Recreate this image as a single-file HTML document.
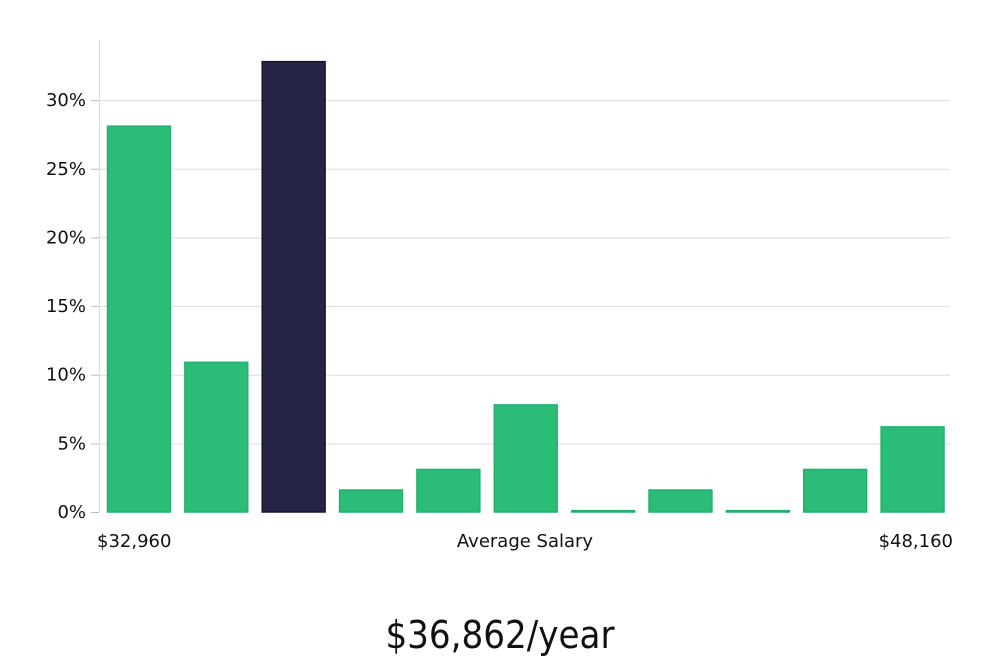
<!DOCTYPE html>
<html><head><meta charset="utf-8"><style>
html,body{margin:0;padding:0;background:#fff;width:1000px;height:660px;overflow:hidden}
svg text{font-family:"DejaVu Sans","Liberation Sans",sans-serif;fill:#111}
</style></head><body>
<svg id="chart" width="1000" height="660" xmlns="http://www.w3.org/2000/svg">
<g id="grid"></g>
<g id="bars"></g>
<g id="yticks"></g>
<line x1="99.5" y1="40" x2="99.5" y2="512" stroke="#ddd" stroke-width="1"/>
<text x="97" y="547" font-size="18">$32,960</text>
<text x="525" y="547" font-size="18" text-anchor="middle">Average Salary</text>
<text x="953" y="547" font-size="18" text-anchor="end">$48,160</text>
<text x="500" y="648" font-size="38" text-anchor="middle" style="font-family:'DejaVu Sans Condensed','Liberation Sans',sans-serif;font-weight:300">$36,862/year</text>
</svg>
<script>
const binValues=[28.1,10.9,32.8,1.6,3.1,7.8,0.1,1.6,0.1,3.1,6.2];
const highlightIndex=[2];
const yTicks=[0,5,10,15,20,25,30];
const yTickLabels=["0%","5%","10%","15%","20%","25%","30%"];
const NS="http://www.w3.org/2000/svg";
const x0=99,x1=950,y0=512,pxPer=13.73;
const y=v=>y0-v*pxPer;
const step=(x1-x0)/binValues.length;
const grid=document.getElementById('grid'),yt=document.getElementById('yticks'),bars=document.getElementById('bars');
yTicks.forEach((t,i)=>{
 if(t>0){const l=document.createElementNS(NS,'line');
 
 
 l.setAttribute('x1',x0);l.setAttribute('x2',x1);l.setAttribute('y1',y(t)+0.5);l.setAttribute('y2',y(t)+0.5);
 l.setAttribute('stroke','#ddd');grid.appendChild(l);}
 const tk=document.createElementNS(NS,'line');
 
 
 tk.setAttribute('x1',x0-8);tk.setAttribute('x2',x0);tk.setAttribute('y1',y(t)+0.5);tk.setAttribute('y2',y(t)+0.5);tk.setAttribute('stroke','#bbb');yt.appendChild(tk);
 const tx=document.createElementNS(NS,'text');
 
 
 tx.setAttribute('x',x0-13);tx.setAttribute('y',y(t)+6);tx.setAttribute('text-anchor','end');tx.setAttribute('font-size','18');
 tx.textContent=yTickLabels[i];yt.appendChild(tx);
});
binValues.forEach((v,i)=>{
 const r=document.createElementNS(NS,'rect');
 
 
 const hi=highlightIndex.includes(i);
 r.setAttribute('x',x0+i*step+8.5);r.setAttribute('width',step-14.5);
 r.setAttribute('y',y(v));r.setAttribute('height',Math.max(v*pxPer,1));
 r.setAttribute('fill',hi?'#272546':'#2bbd77');r.setAttribute('stroke',hi?'#15132e':'#22b06c');r.setAttribute('stroke-width','1.5');
 bars.appendChild(r);
});
</script>
</body></html>
